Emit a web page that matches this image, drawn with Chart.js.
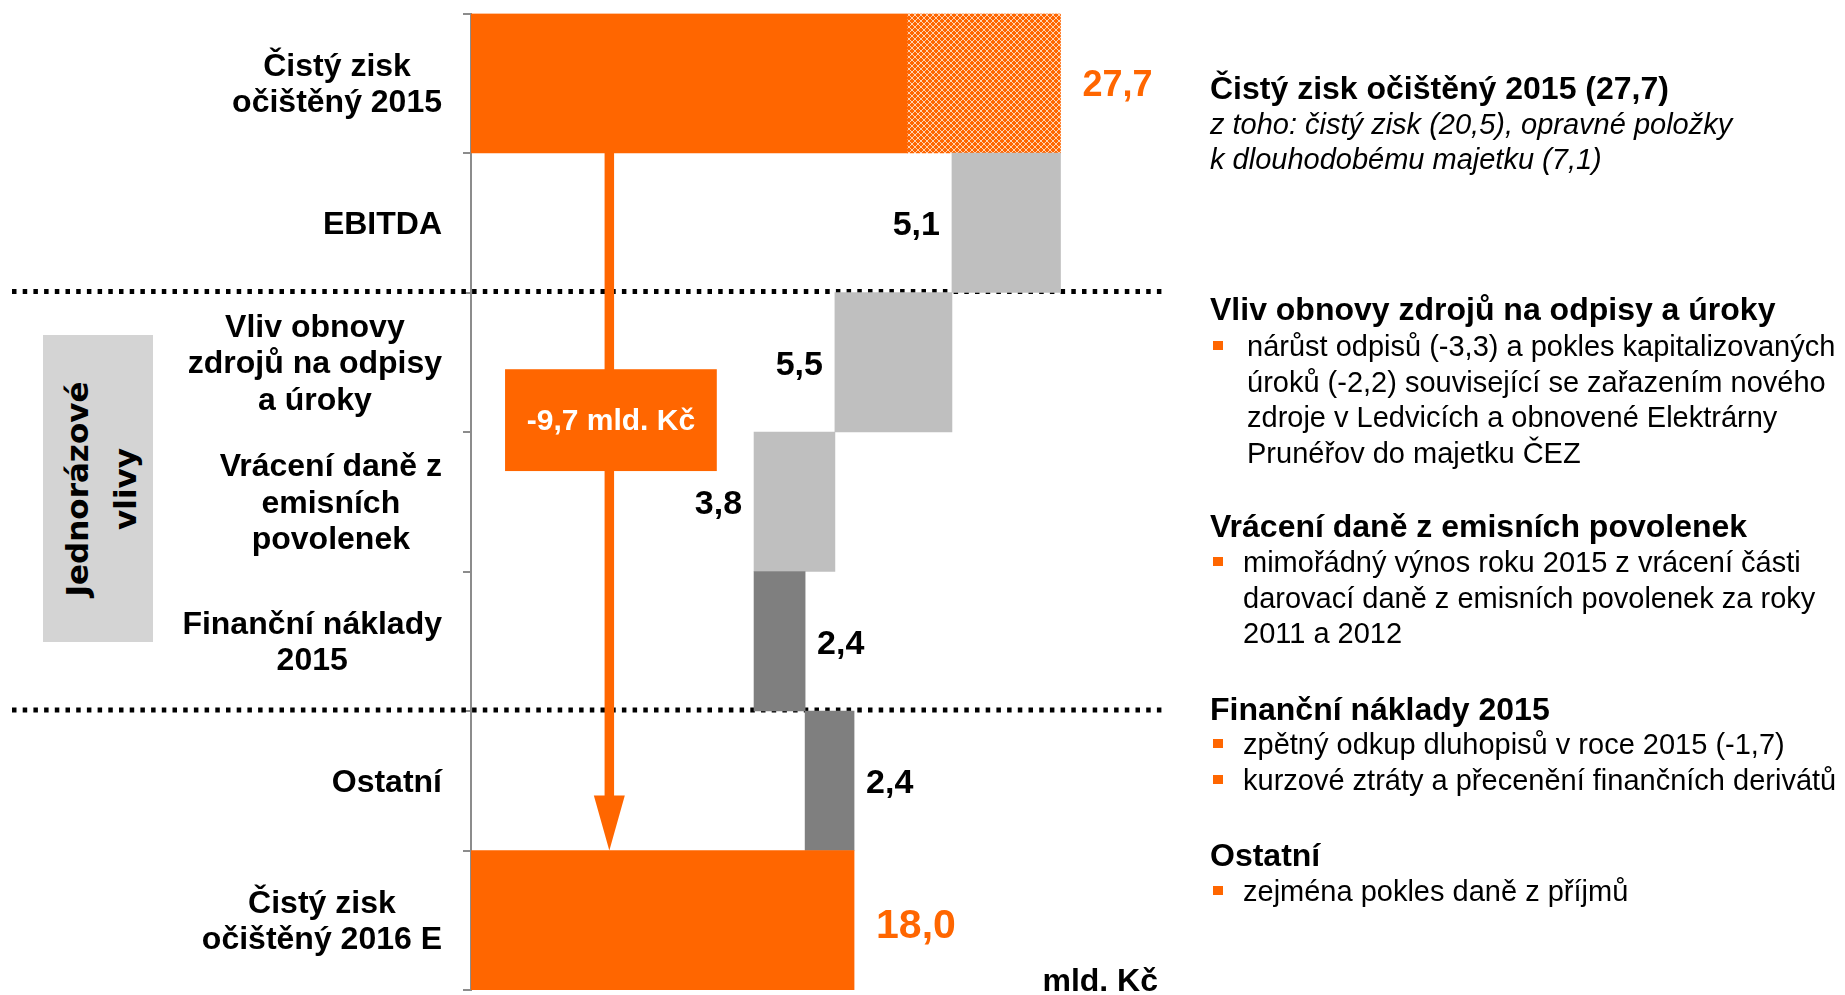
<!DOCTYPE html>
<html lang="cs">
<head>
<meta charset="utf-8">
<title>Čistý zisk očištěný 2015 → 2016 E</title>
<script src="https://cdn.jsdelivr.net/npm/chart.js@4/dist/chart.umd.min.js"></script>
<style>
  html, body { margin: 0; padding: 0; background: #fff; }
  body { width: 1845px; height: 995px; position: relative; overflow: hidden;
         font-family: "Liberation Sans", Arial, sans-serif; color: #000; }
  #wrap { position: absolute; left: 0; top: 0; width: 1845px; height: 995px; }
  .h { position: absolute; left: 1210px; font-size: 32px; font-weight: bold; line-height: 32px; white-space: nowrap; }
  .it { position: absolute; left: 1210px; font-size: 29px; font-style: italic; line-height: 35px; white-space: nowrap; }
  .b { position: absolute; left: 1243px; font-size: 29px; line-height: 35.5px; white-space: nowrap; }
  .sq { position: absolute; left: 1213px; width: 10px; height: 9px; background: #ff6600; }
  #unit { position: absolute; right: 687px; top: 964px; font-size: 32px; font-weight: bold; line-height: 32px; }
  #box { position: absolute; left: 43px; top: 335px; width: 110px; height: 307px; background: #d4d4d4; }
  #boxText { position: absolute; left: calc(50% + 3px); top: 50%; width: 307px;
             transform: translate(-50%, -50%) rotate(-90deg); text-align: center;
             font-family: "DejaVu Sans", sans-serif; font-weight: bold; font-size: 31px; line-height: 48px; }
</style>
</head>
<body>
<div id="box"><div id="boxText">Jednorázové<br>vlivy</div></div>
<div id="wrap"><canvas id="chart"></canvas></div>

<div class="h" style="top:72px">Čistý zisk očištěný 2015 (27,7)</div>
<div class="it" style="top:107px">z toho: čistý zisk (20,5), opravné položky<br>k dlouhodobému majetku (7,1)</div>

<div class="h" style="top:293px">Vliv obnovy zdrojů na odpisy a úroky</div>
<div class="sq" style="top:341px"></div>
<div class="b" style="top:329px; left:1247px">nárůst odpisů (-3,3) a pokles kapitalizovaných<br>úroků (-2,2) související se zařazením nového<br>zdroje v Ledvicích a obnovené Elektrárny<br>Prunéřov do majetku ČEZ</div>

<div class="h" style="top:510px">Vrácení daně z emisních povolenek</div>
<div class="sq" style="top:557px"></div>
<div class="b" style="top:545px">mimořádný výnos roku 2015 z vrácení části<br>darovací daně z emisních povolenek za roky<br>2011 a 2012</div>

<div class="h" style="top:693px">Finanční náklady 2015</div>
<div class="sq" style="top:739px"></div>
<div class="b" style="top:727px">zpětný odkup dluhopisů v roce 2015 (-1,7)</div>
<div class="sq" style="top:775px"></div>
<div class="b" style="top:763px">kurzové ztráty a přecenění finančních derivátů</div>

<div class="h" style="top:839px">Ostatní</div>
<div class="sq" style="top:886px"></div>
<div class="b" style="top:874px">zejména pokles daně z příjmů</div>

<div id="unit">mld. Kč</div>

<script>
// Data
const categories = [
  ['Čistý zisk', 'očištěný 2015'],
  ['EBITDA'],
  ['Vliv obnovy', 'zdrojů na odpisy', 'a úroky'],
  ['Vrácení daně z', 'emisních', 'povolenek'],
  ['Finanční náklady', '2015'],
  ['Ostatní'],
  ['Čistý zisk', 'očištěný 2016 E']
];
const changes = [27.7, -5.1, -5.5, -3.8, 2.4, 2.4, 18.0];
const barFrom = [0, 22.6, 17.1, 13.3, 13.3, 15.7, 0];
const barTo = [20.5, 27.7, 22.6, 17.1, 15.7, 18.0, 18.0];
const adjFrom = [20.5];   // opravné položky (šrafováno)
const adjTo = [27.7];
const totalDiff = '-9,7 mld. Kč';

const ORANGE = '#ff6600';
const FONT = '"Liberation Sans", Arial, sans-serif';

// šrafa
const tile = document.createElement('canvas');
tile.width = 6; tile.height = 6;
const tc = tile.getContext('2d');
tc.fillStyle = ORANGE;
tc.fillRect(0, 0, 6, 6);
tc.fillStyle = '#ffd2b3';
for (let i = 0; i < 6; i++) {
  tc.fillRect(i, i, 1, 1);
  tc.fillRect(5 - i, i, 1, 1);
}
const hatch = tc.createPattern(tile, 'repeat');

const fmt = v => Math.abs(v).toFixed(1).replace('.', ',');

const decor = {
  id: 'decor',
  beforeDatasetsDraw(chart) {
    const { ctx, scales: { y } } = chart;
    ctx.save();
    ctx.strokeStyle = '#000';
    ctx.lineWidth = 5;
    ctx.setLineDash([4.5, 6.2]);
    [1.5, 4.5].forEach(v => {
      const py = y.getPixelForValue(v) - 1;
      ctx.beginPath();
      ctx.moveTo(12, py);
      ctx.lineTo(1163, py);
      ctx.stroke();
    });
    ctx.restore();
  },
  afterDatasetsDraw(chart) {
    const { ctx, scales: { x, y } } = chart;
    ctx.save();

    // popisky kategorií
    ctx.font = 'bold 32px ' + FONT;
    ctx.fillStyle = '#000';
    ctx.textAlign = 'center';
    ctx.textBaseline = 'middle';
    categories.forEach((lines, i) => {
      const cy = y.getPixelForValue(i);
      const w = Math.max(...lines.map(l => ctx.measureText(l).width));
      const cx = y.right - 29 - w / 2;
      lines.forEach((l, k) => ctx.fillText(l, cx, cy + 2 + (k - (lines.length - 1) / 2) * 36.5));
    });

    // hodnoty
    changes.forEach((v, i) => {
      const cy = y.getPixelForValue(i) + 3;
      const total = barFrom[i] === 0;
      if (total) {
        const end = i < adjTo.length ? adjTo[i] : barTo[i];
        ctx.font = 'bold ' + (i === changes.length - 1 ? 41 : 36) + 'px ' + FONT;
        ctx.fillStyle = ORANGE;
        ctx.textAlign = 'left';
        ctx.fillText(fmt(v), x.getPixelForValue(end) + 22, cy + (i === changes.length - 1 ? 3 : 0));
      } else {
        ctx.font = 'bold 34px ' + FONT;
        ctx.fillStyle = '#000';
        if (v < 0) {
          ctx.textAlign = 'right';
          ctx.fillText(fmt(v), x.getPixelForValue(barFrom[i]) - 12, cy);
        } else {
          ctx.textAlign = 'left';
          ctx.fillText(fmt(v), x.getPixelForValue(barTo[i]) + 12, cy);
        }
      }
    });

    // šipka
    const ax = x.getPixelForValue(6.5);
    const yTop = y.getPixelForValue(0.5);
    const yTip = y.getPixelForValue(5.5);
    ctx.strokeStyle = ORANGE;
    ctx.fillStyle = ORANGE;
    ctx.lineWidth = 9.5;
    ctx.beginPath();
    ctx.moveTo(ax, yTop);
    ctx.lineTo(ax, yTip - 54);
    ctx.stroke();
    ctx.beginPath();
    ctx.moveTo(ax - 15.5, yTip - 55);
    ctx.lineTo(ax + 15.5, yTip - 55);
    ctx.lineTo(ax, yTip);
    ctx.closePath();
    ctx.fill();

    const bx1 = x.getPixelForValue(1.6), bx2 = x.getPixelForValue(11.55);
    const by1 = y.getPixelForValue(2.05), by2 = y.getPixelForValue(2.78);
    ctx.fillRect(bx1, by1, bx2 - bx1, by2 - by1);
    ctx.font = 'bold 30px ' + FONT;
    ctx.fillStyle = '#fff';
    ctx.textAlign = 'center';
    ctx.fillText(totalDiff, (bx1 + bx2) / 2, (by1 + by2) / 2 + 2);
    ctx.restore();
  }
};

new Chart(document.getElementById('chart'), {
  type: 'bar',
  data: {
    labels: categories,
    datasets: [
      {
        data: barFrom.map((f, i) => [f, barTo[i]]),
        backgroundColor: ctx => {
          const i = ctx.dataIndex;
          if (barFrom[i] === 0) return ORANGE;
          return changes[i] < 0 ? '#bfbfbf' : '#7f7f7f';
        },
        grouped: false,
        barPercentage: 1,
        categoryPercentage: 1,
        borderWidth: 0,
        borderSkipped: false
      },
      {
        data: adjFrom.map((f, i) => [f, adjTo[i]]),
        backgroundColor: hatch,
        grouped: false,
        barPercentage: 1,
        categoryPercentage: 1,
        borderWidth: 0,
        borderSkipped: false
      }
    ]
  },
  options: {
    indexAxis: 'y',
    responsive: true,
    maintainAspectRatio: false,
    animation: false,
    layout: { padding: { left: 0, right: 693, top: 13.5, bottom: 5 } },
    plugins: { legend: { display: false }, tooltip: { enabled: false } },
    scales: {
      x: { display: false, min: 0, max: 32 },
      y: {
        offset: true,
        border: { display: true, color: '#8c8c8c', width: 2 },
        grid: { display: true, offset: true, drawOnChartArea: false, drawTicks: true, tickLength: 8, color: '#8c8c8c', lineWidth: 2 },
        ticks: { display: false },
        afterFit(scale) { scale.width = 471; }
      }
    }
  },
  plugins: [decor]
});
</script>
</body>
</html>
